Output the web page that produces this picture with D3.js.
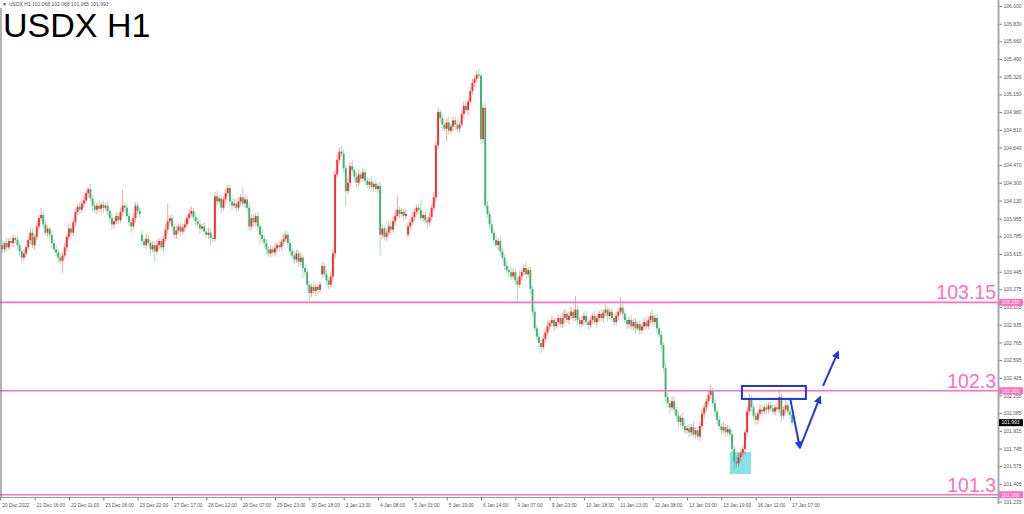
<!DOCTYPE html>
<html><head><meta charset="utf-8">
<script src="https://cdn.jsdelivr.net/npm/d3@7"></script>
<style>body{margin:0;background:#fff}svg{display:block}text{font-family:"Liberation Sans",Arial,sans-serif}</style>
</head><body><svg id="c" width="1024" height="514"></svg>
<script>
// ---------- DATA ----------
const firstOpen = 103.68;
const closes = [
103.70,103.66,103.72,103.68,103.74,103.72,103.77,103.75,103.70,103.64,
103.58,103.62,103.68,103.75,103.82,103.70,103.78,103.88,103.96,103.99,
103.90,103.82,103.86,103.80,103.72,103.66,103.63,103.58,103.55,103.60,
103.68,103.78,103.86,103.82,103.92,104.02,104.07,104.04,104.10,104.13,
104.20,104.24,104.15,104.08,104.04,104.08,104.05,104.09,104.06,104.08,
104.03,103.96,103.90,103.93,103.98,103.94,104.02,104.08,104.06,103.98,
103.92,103.88,103.96,104.08,104.03,104.00,103.74,103.70,103.76,103.72,
103.66,103.70,103.64,103.70,103.74,103.68,103.76,103.85,103.93,103.96,
103.88,103.80,103.84,103.88,103.83,103.87,103.90,103.96,104.00,104.03,
103.97,103.93,103.90,103.86,103.88,103.83,103.80,103.82,103.77,103.76,
104.17,104.12,104.15,104.06,104.14,104.20,104.25,104.12,104.08,104.10,
104.06,104.12,104.16,104.10,104.14,104.06,103.88,103.96,103.92,103.98,
103.88,103.80,103.76,103.72,103.66,103.62,103.66,103.63,103.67,103.70,
103.68,103.73,103.76,103.80,103.72,103.64,103.60,103.56,103.62,103.54,
103.58,103.48,103.44,103.32,103.24,103.30,103.26,103.30,103.27,103.32,
103.50,103.42,103.36,103.32,103.40,103.62,104.38,104.52,104.60,104.58,
104.44,104.22,104.30,104.46,104.42,104.36,104.30,104.38,104.34,104.40,
104.32,104.28,104.31,104.26,104.29,104.24,104.27,103.80,103.86,103.78,
103.82,103.88,103.85,103.93,103.98,104.04,104.00,104.02,103.98,104.00,
103.88,103.92,103.97,104.02,104.06,104.04,103.96,103.99,103.94,103.92,
103.97,104.06,104.16,104.66,104.98,104.92,104.86,104.82,104.88,104.80,
104.84,104.90,104.86,104.82,104.86,104.96,105.04,105.00,105.08,105.18,
105.26,105.30,105.34,105.33,104.72,105.02,104.08,104.00,103.90,103.82,
103.75,103.70,103.74,103.64,103.58,103.50,103.46,103.44,103.40,103.44,
103.36,103.32,103.40,103.44,103.48,103.42,103.46,103.28,103.06,102.90,
102.82,102.76,102.72,102.80,102.86,102.92,102.95,102.98,102.92,102.96,
103.00,102.94,103.00,103.04,102.98,103.02,103.06,103.00,103.08,102.98,
102.94,102.98,103.02,102.96,102.93,102.98,103.02,102.96,103.00,103.04,
103.00,103.05,103.08,103.02,103.06,103.00,102.96,103.02,103.06,103.10,
103.04,102.98,102.94,102.98,102.92,102.96,102.90,102.94,102.88,102.92,
102.96,102.92,102.98,103.02,102.96,103.00,102.90,102.84,102.74,102.52,
102.24,102.18,102.14,102.20,102.12,102.06,102.00,102.04,101.96,101.92,
101.94,101.90,101.95,101.88,101.92,101.86,101.96,102.08,102.14,102.20,
102.26,102.30,102.18,102.10,102.02,101.96,101.92,101.95,101.90,101.93,
101.88,101.74,101.62,101.60,101.66,101.70,101.74,101.90,102.10,102.22,
102.14,102.06,102.02,102.08,102.12,102.10,102.14,102.12,102.16,102.13,
102.10,102.14,102.12,102.24,102.06,102.12,102.16,102.10,102.068,101.993];
// wick lengths above / below the body, in hundredths of a point
const wickHi = [
3,4,2,5,3,4,3,2,4,3, 3,4,2,3,5,4,3,4,3,7, 3,4,3,2,4,3,5,3,4,3, 4,3,5,3,4,3,3,5,4,6,
3,2,5,3,4,3,5,3,4,3, 4,3,5,3,4,3,4,15,3,4, 3,4,5,3,4,3,4,3,5,4, 3,4,3,5,3,4,3,5,17,3,
4,3,5,3,4,3,4,3,5,4, 3,4,3,5,3,4,3,5,4,3, 4,5,3,4,3,4,3,4,3,5, 3,4,3,10,4,3,5,3,4,3,
4,3,5,3,4,3,4,3,5,3, 4,3,5,4,3,4,3,5,4,3, 5,3,4,3,4,3,5,3,4,3, 4,3,4,3,5,3,4,5,4,6,
4,3,5,4,6,3,4,5,3,4, 3,4,3,5,3,4,3,4,5,3, 4,5,6,4,5,14,3,4,3,5, 4,3,5,4,3,4,10,3,4,3,
4,3,5,4,5,3,4,3,4,5, 3,4,3,5,3,4,4,5,3,4, 4,3,4,6,3,4,5,4,3,4, 3,4,3,5,4,3,4,3,5,4,
3,4,5,3,4,6,3,4,3,4, 3,4,3,4,3,5,3,4,3,4, 4,3,5,4,3,4,5,3,13,4, 3,4,3,5,3,4,3,5,4,3,
4,3,5,3,4,3,5,4,3,10, 4,3,4,3,5,3,4,3,4,3, 4,5,3,4,6,3,4,3,4,3, 5,4,3,5,4,3,4,3,5,4,
3,4,3,5,3,4,4,5,4,3, 4,6,3,4,3,4,3,5,3,4, 3,4,3,5,4,3,4,3,4,5, 4,3,4,3,5,4,3,4,3,4,
4,3,4,6,4,3,5,4,3,0];
const wickLo = [
3,4,3,4,2,3,4,3,4,5, 4,3,4,3,4,3,4,3,2,3, 4,3,4,3,5,3,4,5,3,12, 3,4,3,5,3,4,3,4,3,4,
3,4,3,5,3,4,3,4,5,3, 4,3,5,4,3,4,3,4,5,3, 4,6,3,4,3,4,5,3,4,3, 5,3,10,3,4,3,4,3,4,3,
4,3,4,3,5,3,4,3,4,3, 3,4,3,5,3,4,3,4,8,3, 3,4,3,5,3,4,3,4,5,3, 4,3,4,3,4,5,4,3,4,3,
4,10,3,4,5,3,4,3,4,3, 4,3,4,3,5,4,3,4,3,5, 4,10,4,5,8,4,3,5,4,3, 4,3,5,4,3,4,5,3,4,3,
4,15,3,4,3,5,4,3,4,3, 4,3,4,3,5,3,4,20,4,3, 4,3,5,3,4,3,4,3,5,3, 3,4,3,4,3,5,3,4,3,5,
3,4,3,4,3,4,5,3,12,4, 3,4,5,3,4,3,4,3,5,3, 3,4,3,3,5,4,3,4,5,3, 4,3,5,4,3,4,3,5,4,3,
4,15,3,4,3,4,3,5,4,3, 4,5,6,3,4,3,4,3,5,3, 4,3,4,5,3,4,3,4,3,5, 4,3,5,3,4,3,4,3,5,4,
3,4,3,5,4,3,4,3,4,3, 4,3,5,4,3,4,5,3,4,3, 3,4,3,4,5,3,4,3,5,4, 5,4,6,3,4,3,5,4,3,4,
3,5,4,3,4,3,4,3,5,4, 3,4,3,5,4,3,4,3,4,3, 4,3,8,4,3,4,3,5,4,3, 4,3,5,4,3,4,3,5,4,3,
3,4,3,4,6,3,4,3,4,3];
// bars that open away from the previous close (session gaps): [bar, open]
const gapOpens = [[66,103.80],[150,103.42],[190,103.80]];

const priceTicks = ["106.000","105.830","105.660","105.490","105.320","105.150","104.980","104.810",
"104.640","104.470","104.300","104.130","103.955","103.785","103.615","103.445","103.275","103.105",
"102.935","102.765","102.595","102.425","102.255","102.085","101.915","101.745","101.575","101.405","101.235"];
const timeLabels = ["20 Dec 2022","21 Dec 16:00","22 Dec 11:00","23 Dec 06:00","23 Dec 22:00","27 Dec 17:00",
"28 Dec 12:00","29 Dec 07:00","29 Dec 23:00","30 Dec 18:00","3 Jan 13:00","4 Jan 08:00","5 Jan 03:00",
"5 Jan 19:00","6 Jan 14:00","9 Jan 07:00","9 Jan 23:00","10 Jan 18:00","11 Jan 13:00","12 Jan 08:00",
"13 Jan 03:00","13 Jan 19:00","16 Jan 12:00","17 Jan 07:00"];
const barsPerTimeLabel = 16;

const levels = [103.15, 102.3, 101.3];
const levelTexts = ["103.15","102.3","101.3"];
const levelBoxes = ["103.150","102.300","101.300"];
const lastPrice = 101.993, lastPriceText = "101.993";
const title = "USDX H1";
const header = "USDX,H1  102.068 102.068 101.965 101.993";

// annotations in (bar, price) space
const zoneBox = {b0:345.6, b1:375.4, p0:102.346, p1:102.221};
const lowZone = {b0:340.0, b1:349.8, p0:101.712, p1:101.50};
const arrows = [
  [[368.0,102.231],[372.6,101.75]],
  [[372.6,101.75],[382.0,102.24]],
  [[383.4,102.346],[390.4,102.673]]
];

// ---------- CHART ----------
const W=1024,H=514, axisX=998.5, axisY=497.5;
const svg = d3.select('#c');
svg.append('rect').attr('width',W).attr('height',H).attr('fill','#fff');

const x = d3.scaleLinear().domain([0,464]).range([0.3, 0.3+464*2.146]);
const y = d3.scaleLinear().domain([101.235,106]).range([501.5,6]);

svg.append('clipPath').attr('id','plot').append('rect')
  .attr('x',1).attr('y',0).attr('width',axisX-1).attr('height',axisY);

const UP='#ff2b2b', DN='#3cb371';
const gapMap = new Map(gapOpens);
const candles = closes.map((c,i)=>{
  const o = gapMap.has(i) ? gapMap.get(i) : (i===0 ? firstOpen : closes[i-1]);
  return {i,o,c,h:Math.max(o,c)+wickHi[i]/100,l:Math.min(o,c)-wickLo[i]/100,up:c>=o};
});

// low zone (cyan) behind candles
svg.append('rect')
  .attr('x',x(lowZone.b0)).attr('width',x(lowZone.b1)-x(lowZone.b0))
  .attr('y',y(lowZone.p0)).attr('height',y(lowZone.p1)-y(lowZone.p0))
  .attr('fill','#86e0e6');

const g = svg.append('g').attr('clip-path','url(#plot)');
g.selectAll('line.w').data(candles).join('line').attr('class','w')
  .attr('x1',d=>x(d.i)).attr('x2',d=>x(d.i))
  .attr('y1',d=>y(d.h)).attr('y2',d=>y(d.l))
  .attr('stroke',d=>d.up?UP:DN).attr('stroke-width',1).attr('stroke-opacity',0.45);
g.selectAll('rect.b').data(candles).join('rect').attr('class','b')
  .attr('x',d=>x(d.i)-0.95).attr('width',1.9)
  .attr('y',d=>y(Math.max(d.o,d.c)))
  .attr('height',d=>Math.max(0.9, y(Math.min(d.o,d.c))-y(Math.max(d.o,d.c))))
  .attr('fill',d=>d.up?UP:DN);

// levels
const PINK='#ff6eb8';
svg.selectAll('line.lv').data(levels).join('line').attr('class','lv')
  .attr('x1',0).attr('x2',axisX).attr('y1',d=>y(d)).attr('y2',d=>y(d))
  .attr('stroke',PINK).attr('stroke-width',1.7);
svg.selectAll('text.lv').data(levels).join('text').attr('class','lv')
  .attr('x',996).attr('y',d=>y(d)-3).attr('text-anchor','end')
  .attr('font-size',19.5).attr('fill',PINK).text((d,i)=>levelTexts[i]);

// blue box and arrows
const BLUE='#1f35e6';
svg.append('rect')
  .attr('x',x(zoneBox.b0)).attr('width',x(zoneBox.b1)-x(zoneBox.b0))
  .attr('y',y(zoneBox.p0)).attr('height',y(zoneBox.p1)-y(zoneBox.p0))
  .attr('fill','none').attr('stroke',BLUE).attr('stroke-width',2);
svg.append('defs').append('marker').attr('id','ah').attr('viewBox','0 0 10 10')
  .attr('refX',8).attr('refY',5).attr('markerWidth',4).attr('markerHeight',4)
  .attr('orient','auto').attr('markerUnits','strokeWidth')
  .append('path').attr('d','M0,0L10,5L0,10z').attr('fill',BLUE);
svg.selectAll('line.ar').data(arrows).join('line').attr('class','ar')
  .attr('x1',d=>x(d[0][0])).attr('y1',d=>y(d[0][1]))
  .attr('x2',d=>x(d[1][0])).attr('y2',d=>y(d[1][1]))
  .attr('stroke',BLUE).attr('stroke-width',2).attr('marker-end','url(#ah)');

// frame lines
svg.append('line').attr('x1',1).attr('x2',1).attr('y1',8).attr('y2',axisY).attr('stroke','#666').attr('stroke-width',1);
svg.append('line').attr('x1',0).attr('x2',axisX).attr('y1',axisY).attr('y2',axisY).attr('stroke','#999').attr('stroke-width',1);
svg.append('line').attr('x1',axisX).attr('x2',axisX).attr('y1',0).attr('y2',504).attr('stroke','#aaa').attr('stroke-width',2);

// right price axis
const ya = svg.append('g').attr('transform',`translate(${axisX+1},0)`)
  .call(d3.axisRight(y).tickValues(priceTicks.map(Number)).tickFormat((d,i)=>priceTicks[i]).tickSize(2.5).tickPadding(1.5));
ya.select('.domain').remove();
ya.selectAll('line').attr('stroke','#777');
ya.selectAll('text').attr('font-size',5).attr('fill','#555').attr('font-family','"Liberation Sans",Arial,sans-serif');

// bottom time axis
const tIdx = timeLabels.map((t,k)=>k*barsPerTimeLabel);
const xa = svg.append('g').attr('transform',`translate(0,${axisY})`)
  .call(d3.axisBottom(x).tickValues(tIdx).tickFormat((d,k)=>timeLabels[k]).tickSize(3).tickPadding(3));
xa.select('.domain').remove();
xa.selectAll('line').attr('stroke','#777');
xa.selectAll('text').attr('font-size',4.8).attr('fill','#555').attr('text-anchor','start').attr('dx',1.5)
  .attr('font-family','"Liberation Sans",Arial,sans-serif');

// axis price boxes
function priceBox(p, txt, fill){
  const yy=y(p);
  svg.append('rect').attr('x',axisX+0.5).attr('y',yy-3.5).attr('width',24).attr('height',7).attr('fill',fill);
  svg.append('text').attr('x',axisX+3).attr('y',yy+1.8).attr('font-size',5).attr('fill','#fff').text(txt);
}
levels.forEach((p,i)=>priceBox(p, levelBoxes[i], PINK));
priceBox(lastPrice, lastPriceText, '#000');

// title & header
svg.append('text').attr('x',3).attr('y',37).attr('font-size',34).attr('fill','#000').text(title);
svg.append('text').attr('x',2).attr('y',6).attr('font-size',5).attr('fill','#444').text('\u25BC');
svg.append('text').attr('x',9).attr('y',6).attr('font-size',5).attr('fill','#555').text(header);
</script></body></html>
